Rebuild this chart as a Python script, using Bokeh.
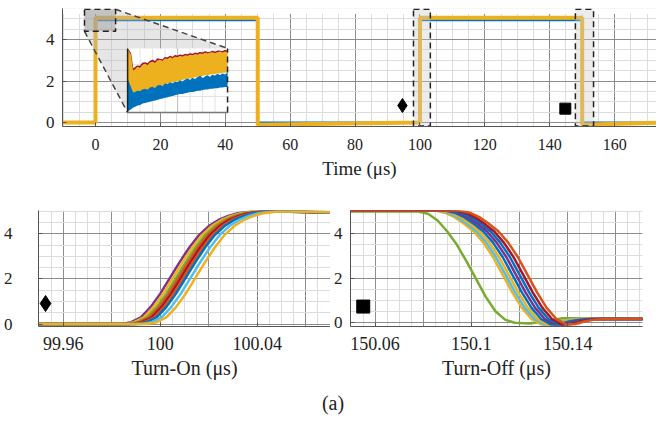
import numpy as np
from bokeh.plotting import figure
from bokeh.models import FixedTicker, Label, Div
from bokeh.layouts import column, row
from bokeh.embed import file_html
from bokeh.resources import INLINE

FONT = "Liberation Serif"
YELLOW = "#EDB120"; BLUE = "#0072BD"; ORANGE = "#D95319"; PURPLE = "#7E2F8E"
GREEN = "#77AC30"; LBLUE = "#4DBEEE"; DRED = "#A2142F"

# ---------------- data: top panel (gate voltage over two pulses) ----------------
top_t = [-12, 0, 0, 50, 50, 100, 100, 150, 150, 175]
top_v_yellow = [0.0, 0.0, 5.05, 5.05, -0.1, 0.0, 5.05, 5.05, -0.1, 0.0]
top_v_blue = [0.0, 0.0, 4.93, 4.93, 0.0, 0.0, 4.93, 4.93, 0.0, 0.0]
top_x_ticks = [0, 20, 40, 60, 80, 100, 120, 140, 160]
top_y_ticks = [0, 2, 4]
top_diamond = (94.6, 0.82)
top_square = (144.8, 0.67)

# inset (zoom of first rising edge plateau), normalised inset units
inset_u = [0.0, 0.025, 0.05, 0.075, 0.1, 0.125, 0.15, 0.175, 0.2, 0.225, 0.25, 0.275, 0.3, 0.325,
           0.35, 0.375, 0.4, 0.425, 0.45, 0.475, 0.5, 0.525, 0.55, 0.575, 0.6, 0.625, 0.65, 0.675,
           0.7, 0.725, 0.75, 0.775, 0.8, 0.825, 0.85, 0.875, 0.9, 0.925, 0.95, 0.975, 1.0]
inset_or_hi = [0.97, 0.90, 0.63, 0.66, 0.70, 0.68, 0.73, 0.75, 0.72, 0.77, 0.78, 0.76, 0.80, 0.81,
               0.79, 0.83, 0.82, 0.85, 0.83, 0.86, 0.85, 0.87, 0.86, 0.88, 0.87, 0.89, 0.88, 0.90,
               0.89, 0.91, 0.90, 0.92, 0.91, 0.92, 0.93, 0.91, 0.93, 0.94, 0.92, 0.94, 0.93]
inset_or_lo = [0.05, 0.10, 0.22, 0.26, 0.28, 0.30, 0.31, 0.33, 0.35, 0.36, 0.37, 0.39, 0.40, 0.41,
               0.42, 0.44, 0.45, 0.46, 0.47, 0.48, 0.49, 0.50, 0.51, 0.52, 0.53, 0.53, 0.54, 0.55,
               0.56, 0.56, 0.57, 0.58, 0.58, 0.59, 0.60, 0.60, 0.61, 0.61, 0.62, 0.62, 0.63]
inset_bl_hi = [0.50, 0.40, 0.30, 0.31, 0.33, 0.32, 0.35, 0.36, 0.34, 0.38, 0.39, 0.37, 0.41, 0.42,
               0.40, 0.44, 0.43, 0.46, 0.44, 0.47, 0.46, 0.49, 0.47, 0.50, 0.52, 0.49, 0.53, 0.51,
               0.54, 0.56, 0.52, 0.55, 0.57, 0.54, 0.58, 0.56, 0.59, 0.57, 0.60, 0.58, 0.61]
inset_bl_lo = [0.02, 0.04, 0.07, 0.09, 0.11, 0.12, 0.14, 0.15, 0.16, 0.17, 0.18, 0.19, 0.20, 0.21,
               0.22, 0.23, 0.24, 0.25, 0.26, 0.27, 0.28, 0.29, 0.29, 0.30, 0.31, 0.32, 0.32, 0.33,
               0.34, 0.34, 0.35, 0.36, 0.36, 0.37, 0.37, 0.38, 0.38, 0.39, 0.39, 0.40, 0.40]
inset_rd_top = [0.98, 0.92, 0.66, 0.69, 0.72, 0.71, 0.76, 0.77, 0.75, 0.79, 0.81, 0.78, 0.83, 0.82,
                0.81, 0.85, 0.84, 0.87, 0.85, 0.88, 0.87, 0.89, 0.88, 0.90, 0.89, 0.91, 0.90, 0.92,
                0.91, 0.93, 0.92, 0.94, 0.93, 0.93, 0.95, 0.93, 0.95, 0.95, 0.94, 0.96, 0.95]

# ---------------- data: turn-on detail ----------------
on_t = [99.90, 99.984, 99.988, 99.992, 99.996, 100.000, 100.004, 100.008, 100.012, 100.016,
        100.020, 100.024, 100.028, 100.032, 100.038, 100.046, 100.10]
on_v = [0.0, 0.0, 0.08, 0.3, 0.75, 1.35, 2.05, 2.75, 3.4, 3.95, 4.35, 4.62, 4.8, 4.92, 5.0, 5.0, 4.88]
on_delays = [0.0, 0.0012, 0.0025, 0.0035, 0.0045, 0.0055, 0.0065, 0.0085, 0.0105]
on_colors = [PURPLE, YELLOW, GREEN, ORANGE, DRED, ORANGE, BLUE, LBLUE, YELLOW]
on_x_ticks = [99.96, 100.0, 100.04]
on_diamond = (99.9527, 0.91)

# ---------------- data: turn-off detail ----------------
off_t = [150.00, 150.085, 150.089, 150.093, 150.097, 150.101, 150.105, 150.109, 150.113, 150.117,
         150.121, 150.125, 150.129, 150.133, 150.137, 150.141, 150.145, 150.20]
off_v = [5.05, 5.05, 4.95, 4.75, 4.45, 4.1, 3.6, 2.95, 2.15, 1.35, 0.65, 0.15, -0.1, -0.08, 0.05,
         0.12, 0.15, 0.15]
off_delays = [0.0, 0.0012, 0.0025, 0.004, 0.0055, 0.007, 0.0085, 0.0103]
off_colors = [YELLOW, LBLUE, YELLOW, BLUE, PURPLE, BLUE, DRED, ORANGE]
off_green_t = [150.00, 150.078, 150.082, 150.086, 150.090, 150.094, 150.098, 150.102, 150.106,
               150.110, 150.114, 150.118, 150.124, 150.130, 150.134, 150.138, 150.20]
off_green_v = [5.0, 5.0, 4.9, 4.6, 4.1, 3.5, 2.75, 1.95, 1.15, 0.5, 0.12, -0.02, -0.05, 0.02,
               0.12, 0.18, 0.15]
off_x_ticks = [150.06, 150.1, 150.14]
off_square = (150.0551, 0.71)
det_y_ticks = [0, 2, 4]

# ---------------- layout constants ----------------
ZOOM_BOX = dict(left=-3.4, right=6.2, bottom=4.39, top=5.45)
INSET = dict(left=9.9, right=40.7, bottom=0.48, top=3.57)
EDGE_BOXES = [(98.0, 103.2), (147.9, 153.5)]


def base_fig(width, height, xr, yr, mt, mr, mb, ml):
    p = figure(width=width, height=height, x_range=xr, y_range=yr, output_backend="svg",
               toolbar_location=None, min_border_top=mt, min_border_right=mr,
               min_border_bottom=mb, min_border_left=ml)
    p.outline_line_color = None
    p.background_fill_color = "white"
    p.border_fill_color = "white"
    return p


def style(p, xticks, yticks, xgrid, xminor, ygrid, yminor, tick_fs, ytick_fs, xlabel, lab_fs,
          x_standoff, lab_standoff, y_standoff):
    p.xaxis[0].ticker = FixedTicker(ticks=xticks)
    p.yaxis[0].ticker = FixedTicker(ticks=yticks)
    p.xgrid[0].ticker = FixedTicker(ticks=xgrid, minor_ticks=xminor)
    p.ygrid[0].ticker = FixedTicker(ticks=ygrid, minor_ticks=yminor)
    for g in (p.xgrid[0], p.ygrid[0]):
        g.grid_line_color = "#8c8c8c"
        g.grid_line_width = 1
        g.minor_grid_line_color = "#dcdcdc"
        g.minor_grid_line_width = 1
    for ax, fs, so in ((p.xaxis[0], tick_fs, x_standoff), (p.yaxis[0], ytick_fs, y_standoff)):
        ax.axis_line_color = "#555555"
        ax.major_tick_line_color = "#555555"
        ax.major_tick_in = 4
        ax.major_tick_out = 0
        ax.minor_tick_line_color = None
        ax.major_label_text_font = FONT
        ax.major_label_text_font_style = "normal"
        ax.major_label_text_font_size = fs
        ax.major_label_text_color = "#222222"
        ax.major_label_standoff = so
    xa = p.xaxis[0]
    xa.axis_label = xlabel
    xa.axis_label_text_font = FONT
    xa.axis_label_text_font_size = lab_fs
    xa.axis_label_text_font_style = "normal"
    xa.axis_label_text_color = "#222222"
    xa.axis_label_standoff = lab_standoff


# ================= top panel =================
top = base_fig(656, 186, (-10.17, 172.9), (-0.19, 5.49), 8, 0, 60, 62)
style(top, top_x_ticks, top_y_ticks,
      list(range(-20, 200, 20)), list(range(-10, 180, 5)),
      [0, 2, 4], [x * 0.5 for x in range(-1, 12)],
      "16px", "17px", "Time (μs)", "19px", 12, 5, 8)

# hide grid above the axes area (annotations stick out there)
top.quad(left=-20, right=200, bottom=5.22, top=6, fill_color="white", line_color=None)

top.line(top_t, top_v_blue, line_color=BLUE, line_width=2)
top.line(top_t, top_v_yellow, line_color=YELLOW, line_width=4)

# callout between zoom box and inset
cx = [ZOOM_BOX["right"], INSET["right"], INSET["right"], INSET["left"], ZOOM_BOX["left"], ZOOM_BOX["left"]]
cy = [ZOOM_BOX["top"], INSET["top"], INSET["bottom"], INSET["bottom"], ZOOM_BOX["bottom"], ZOOM_BOX["top"]]
top.patch(cx, cy, fill_color="#b8b8b8", fill_alpha=0.35, line_color=None)
top.line([ZOOM_BOX["right"], INSET["right"]], [ZOOM_BOX["top"], INSET["top"]],
         line_color="#444444", line_width=1.5, line_dash="6 4")
top.line([ZOOM_BOX["left"], INSET["left"]], [ZOOM_BOX["bottom"], INSET["bottom"]],
         line_color="#444444", line_width=1.5, line_dash="6 4")
top.quad(**ZOOM_BOX, fill_color="#9a9a9a", fill_alpha=0.45, line_color="#222222",
         line_width=1.5, line_dash="6 4")

# inset
ix = INSET["left"] + np.array(inset_u) * (INSET["right"] - INSET["left"])
def iy(v):
    return INSET["bottom"] + np.array(v) * (INSET["top"] - INSET["bottom"])
top.quad(**INSET, fill_color="white", line_color=None)
for k in range(1, 8):
    gx = INSET["left"] + k / 8 * (INSET["right"] - INSET["left"])
    top.line([gx, gx], [INSET["bottom"], INSET["top"]], line_color="#e3e3e3", line_width=1)
for k in range(1, 4):
    gy = INSET["bottom"] + k / 4 * (INSET["top"] - INSET["bottom"])
    top.line([INSET["left"], INSET["right"]], [gy, gy], line_color="#e3e3e3", line_width=1)
gx = INSET["left"] + 0.5 * (INSET["right"] - INSET["left"])
top.line([gx, gx], [INSET["bottom"], INSET["top"]], line_color="#bdbdbd", line_width=1)
top.line(ix, iy(inset_rd_top), line_color=DRED, line_width=2)
top.varea(x=ix, y1=iy(inset_or_lo), y2=iy(inset_or_hi), fill_color=YELLOW)
top.line(ix, iy(inset_or_hi), line_color=YELLOW, line_width=1.5)
top.varea(x=ix, y1=iy(inset_bl_lo), y2=iy(inset_bl_hi), fill_color=BLUE)
top.line(ix, iy(inset_bl_hi), line_color=BLUE, line_width=1.5)
top.line([INSET["left"], INSET["left"]], [INSET["bottom"], INSET["top"]], line_color="#222222", line_width=1.5)
top.line([INSET["left"], INSET["right"]], [INSET["bottom"], INSET["bottom"]], line_color="#777777", line_width=1.5)
top.line([INSET["right"], INSET["right"]], [INSET["bottom"], INSET["top"]], line_color="#222222",
         line_width=1.5, line_dash="6 4")

# dashed boxes around the edges shown in detail below
for l, r in EDGE_BOXES:
    top.quad(left=l, right=r, bottom=-0.17, top=5.45, fill_color="#c8c8c8", fill_alpha=0.35,
             line_color="#222222", line_width=1.5, line_dash="6 4")

top.scatter([top_diamond[0]], [top_diamond[1]], marker="diamond", size=14, color="black")
top.scatter([top_square[0]], [top_square[1]], marker="square", size=11, color="black")

# y label: v_gs (V), rotated
for txt, x, y, fs in [("v", -36, 35, "19px"), ("gs", -29, 47, "13px"), ("(V)", -36, 66, "19px")]:
    top.add_layout(Label(x=x, y=y, x_units="screen", y_units="screen", text=txt, angle=np.pi / 2,
                         text_font=FONT, text_font_size=fs, text_color="#222222",
                         text_align="center", text_baseline="middle"))

# ================= turn-on panel =================
on = base_fig(330, 198, (99.9498, 100.0702), (-0.11, 5.04), 24, 0, 58, 35)
style(on, on_x_ticks, det_y_ticks,
      [99.94, 99.96, 99.98, 100.0, 100.02, 100.04, 100.06, 100.08],
      [99.95 + 0.005 * k for k in range(26)],
      [0, 2, 4], [x * 0.5 for x in range(-1, 12)],
      "18px", "17px", "Turn-On (μs)", "20px", 10, 4, 26)
for d, c in zip(on_delays, on_colors):
    on.line(np.array(on_t) + d, on_v, line_color=c, line_width=2.5)
on.scatter([on_diamond[0]], [on_diamond[1]], marker="diamond", size=16, color="black")

# ================= turn-off panel =================
off = base_fig(326, 198, (150.0498, 150.1711), (-0.19, 5.05), 24, 14, 58, 17)
style(off, off_x_ticks, det_y_ticks,
      [150.04, 150.06, 150.08, 150.1, 150.12, 150.14, 150.16, 150.18],
      [150.045 + 0.005 * k for k in range(28)],
      [0, 2, 4], [x * 0.5 for x in range(-1, 12)],
      "18px", "17px", "Turn-Off (μs)", "20px", 10, 4, 8)
off.line(off_green_t, off_green_v, line_color=GREEN, line_width=2.5)
for d, c in zip(off_delays, off_colors):
    off.line(np.array(off_t) + d, off_v, line_color=c, line_width=2.5)
off.scatter([off_square[0]], [off_square[1]], marker="square", size=13, color="black")

caption = Div(text="(a)", width=656, height=38,
              styles={"text-align": "center", "font-family": FONT, "font-size": "20px",
                      "color": "#222222", "line-height": "28px", "width": "656px"})

layout = column(top, row(on, off, spacing=0), caption, spacing=0)
open("out.html", "w").write(file_html(layout, INLINE))
